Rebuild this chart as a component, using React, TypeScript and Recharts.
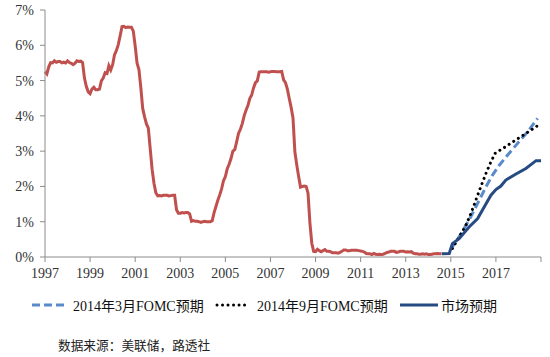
import React from 'react'
import { LineChart, Line, XAxis, YAxis } from 'recharts'

// 联邦基金有效利率，1997年1月起按月 (%)
const fedStartYear = 1997
const fedFundsRate = [
  5.25, 5.19, 5.39, 5.51, 5.50, 5.56, 5.52, 5.54, 5.54, 5.50, 5.52, 5.50,
  5.56, 5.51, 5.49, 5.45, 5.49, 5.56, 5.54, 5.55, 5.51, 5.07, 4.83, 4.68,
  4.63, 4.76, 4.81, 4.74, 4.74, 4.76, 4.99, 5.07, 5.22, 5.20, 5.42, 5.30,
  5.45, 5.73, 5.85, 6.02, 6.27, 6.53, 6.54, 6.50, 6.52, 6.51, 6.51, 6.40,
  5.98, 5.49, 5.31, 4.80, 4.21, 3.97, 3.77, 3.65, 3.07, 2.49, 2.09, 1.82,
  1.73, 1.74, 1.73, 1.75, 1.75, 1.75, 1.73, 1.74, 1.75, 1.75, 1.34, 1.24,
  1.24, 1.26, 1.25, 1.26, 1.26, 1.22, 1.01, 1.03, 1.01, 1.01, 1.00, 0.98,
  1.00, 1.01, 1.00, 1.00, 1.00, 1.03, 1.26, 1.43, 1.61, 1.76, 1.93, 2.16,
  2.28, 2.50, 2.63, 2.79, 3.00, 3.04, 3.26, 3.50, 3.62, 3.78, 4.00, 4.16,
  4.29, 4.49, 4.59, 4.79, 4.94, 4.99, 5.24, 5.25, 5.25, 5.25, 5.25, 5.24,
  5.25, 5.26, 5.26, 5.25, 5.25, 5.25, 5.26, 5.02, 4.94, 4.76, 4.49, 4.24,
  3.94, 2.98, 2.61, 2.28, 1.98, 2.00, 2.01, 2.00, 1.81, 0.97, 0.39, 0.16,
  0.15, 0.22, 0.18, 0.15, 0.18, 0.21, 0.16, 0.16, 0.15, 0.12, 0.12, 0.12,
  0.11, 0.13, 0.16, 0.20, 0.20, 0.18, 0.18, 0.19, 0.19, 0.19, 0.19, 0.18,
  0.17, 0.16, 0.14, 0.10, 0.09, 0.09, 0.07, 0.10, 0.08, 0.07, 0.08, 0.07,
  0.08, 0.10, 0.13, 0.14, 0.16, 0.16, 0.16, 0.13, 0.14, 0.16, 0.16, 0.16,
  0.14, 0.15, 0.14, 0.15, 0.11, 0.09, 0.09, 0.08, 0.08, 0.09, 0.08, 0.09,
  0.07, 0.07, 0.08, 0.09, 0.09, 0.10, 0.09, 0.09,
]

// 2014年3月FOMC预期
const marchYears = [2015.0, 2015.3, 2015.6, 2015.85, 2016.04, 2016.26, 2016.56, 2016.85, 2017.15, 2017.52, 2017.96, 2018.41, 2018.85]
const marchRates = [0.22, 0.5, 0.82, 1.1, 1.33, 1.61, 1.99, 2.32, 2.6, 2.89, 3.22, 3.55, 3.93]

// 2014年9月FOMC预期
const septYears = [2015.07, 2015.37, 2015.67, 2015.89, 2016.11, 2016.33, 2016.56, 2016.78, 2016.97, 2017.44, 2017.89, 2018.33, 2018.85]
const septRates = [0.24, 0.57, 0.9, 1.23, 1.61, 1.99, 2.37, 2.7, 2.94, 3.13, 3.32, 3.5, 3.72]

// 市场预期
const marketYears = [2014.6, 2014.93, 2015.07, 2015.37, 2015.81, 2016.19, 2016.48, 2016.78, 2017.0, 2017.22, 2017.44, 2017.89, 2018.33, 2018.78, 2019.0]
const marketRates = [0.09, 0.1, 0.38, 0.52, 0.85, 1.09, 1.42, 1.75, 1.91, 2.01, 2.18, 2.35, 2.51, 2.73, 2.73]

const xTicks = [1997, 1999, 2001, 2003, 2005, 2007, 2009, 2011, 2013, 2015, 2017, 2019]
const yTicks = [0, 1, 2, 3, 4, 5, 6, 7]

const fedData = fedFundsRate.map((v, i) => ({ t: fedStartYear + i / 12, v }))
const pair = (ts: number[], vs: number[]) => ts.map((t, i) => ({ t, v: vs[i] }))
const marchData = pair(marchYears, marchRates)
const septData = pair(septYears, septRates)
const marketData = pair(marketYears, marketRates)

const serif = '"Times New Roman", "Liberation Serif", "Noto Sans CJK SC", serif'
const tickStyle = { fontSize: 14, fill: '#333', fontFamily: serif }

const RED = '#C0504D'
const LIGHT_BLUE = '#5B8ACB'
const DARK_BLUE = '#264B82'

type LegendProps = { kind: 'dash' | 'dot' | 'solid'; label: string; left: number; sample: number; gap: number }

function LegendItem({ kind, label, left, sample, gap }: LegendProps) {
  const stroke = kind === 'dash' ? LIGHT_BLUE : kind === 'dot' ? '#000' : DARK_BLUE
  const dash = kind === 'dash' ? '8 4' : kind === 'dot' ? '0.01 5.5' : undefined
  return (
    <div style={{ position: 'absolute', left, top: 0, display: 'flex', alignItems: 'center' }}>
      <svg width={sample} height={8} style={{ marginRight: gap }}>
        <line x1={kind === 'dot' ? 2 : 0} y1={4} x2={kind === 'dot' ? sample - 2 : sample} y2={4}
          stroke={stroke} strokeWidth={3} strokeDasharray={dash}
          strokeLinecap={kind === 'dot' ? 'round' : 'butt'} />
      </svg>
      <span>{label}</span>
    </div>
  )
}

export default function App() {
  return (
    <div style={{ position: 'relative', width: 550, height: 357, background: '#fff', fontFamily: serif }}>
      <style>{'body{margin:0}'}</style>
      <LineChart width={550} height={290} margin={{ top: 10, right: 9, bottom: 3, left: 0 }}>
        <XAxis
          type="number" dataKey="t" domain={[1997, 2019]} ticks={xTicks} height={30}
          allowDuplicatedCategory={false}
          tick={tickStyle} tickSize={5} tickMargin={6}
          tickFormatter={(v: number) => (v === 2019 ? '' : String(v))}
          stroke="#8c8c8c"
        />
        <YAxis
          type="number" domain={[0, 7]} ticks={yTicks} width={45}
          tick={tickStyle} tickSize={5} tickMargin={6}
          tickFormatter={(v: number) => `${v}%`}
          stroke="#8c8c8c"
        />
        <Line data={fedData} dataKey="v" type="linear" stroke={RED} strokeWidth={3} dot={false} isAnimationActive={false} />
        <Line data={marchData} dataKey="v" type="linear" stroke={LIGHT_BLUE} strokeWidth={3} strokeDasharray="8 4" dot={false} isAnimationActive={false} />
        <Line data={septData} dataKey="v" type="linear" stroke="#000" strokeWidth={3} strokeDasharray="0.01 5.5" strokeLinecap="round" dot={false} isAnimationActive={false} />
        <Line data={marketData} dataKey="v" type="linear" stroke={DARK_BLUE} strokeWidth={3} dot={false} isAnimationActive={false} />
      </LineChart>
      <div style={{ position: 'absolute', left: 0, top: 295, width: 550, height: 20, fontSize: 14, color: '#111', whiteSpace: 'nowrap' }}>
        <LegendItem kind="dash" label="2014年3月FOMC预期" left={32} sample={34} gap={7} />
        <LegendItem kind="dot" label="2014年9月FOMC预期" left={215} sample={34} gap={8} />
        <LegendItem kind="solid" label="市场预期" left={400} sample={38} gap={3} />
      </div>
      <div style={{ position: 'absolute', left: 58, top: 335, fontSize: 12.7, color: '#222', whiteSpace: 'nowrap' }}>
        数据来源：美联储，路透社
      </div>
    </div>
  )
}
